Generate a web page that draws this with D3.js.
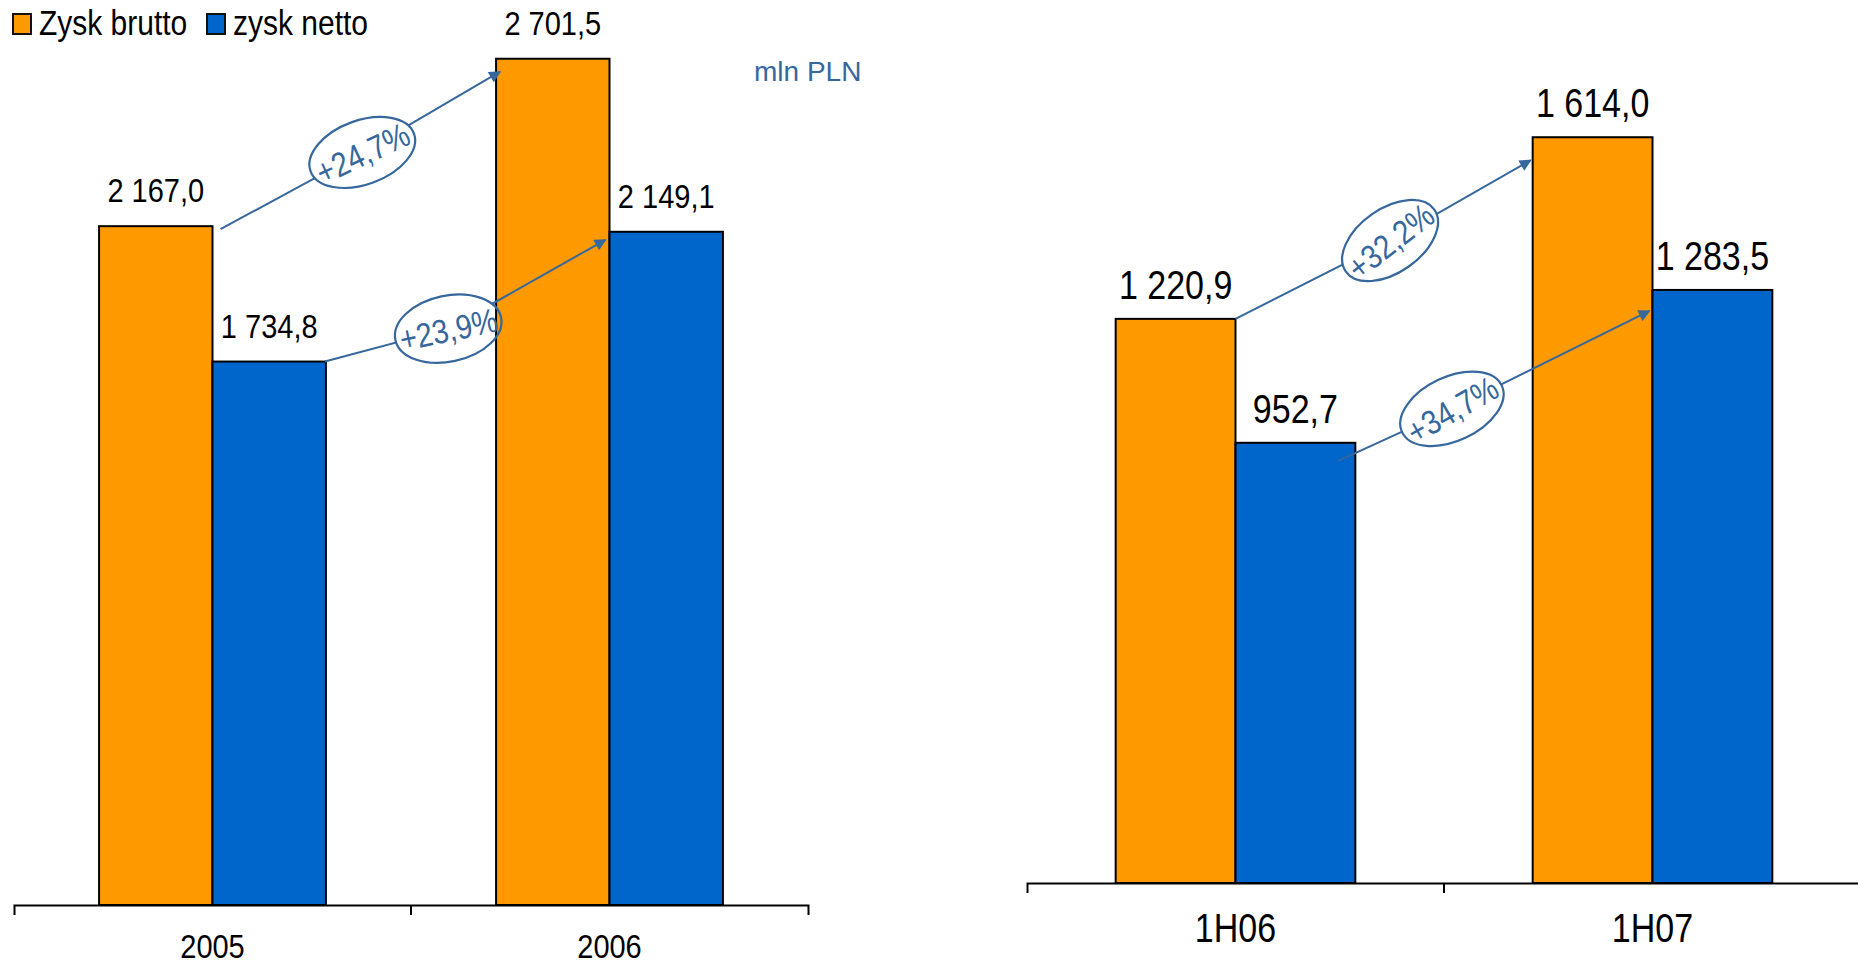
<!DOCTYPE html>
<html><head><meta charset="utf-8">
<script src="https://cdn.jsdelivr.net/npm/d3@7"></script>
<style>body{margin:0;background:#fff} text{font-family:"Liberation Sans",Arial,sans-serif}</style>
</head><body><svg id="c" width="1858" height="968"></svg>
<script>
// ---- data ----
const seriesNames = ["Zysk brutto", "zysk netto"];
const seriesColors = ["#FF9900", "#0066CC"];
const yearCats = ["2005", "2006"];
const yearBrutto = [2167.0, 2701.5];
const yearNetto = [1734.8, 2149.1];
const halfCats = ["1H06", "1H07"];
const halfBrutto = [1220.9, 1614.0];
const halfNetto = [952.7, 1283.5];
const unitLabel = "mln PLN";

// ---- layout ----
const annotColor = "#36679D";
const SY = 1.17; // vertical stretch of lettering
const pl = d3.formatLocale({decimal: ",", thousands: " ", grouping: [3], currency: ["", " zł"]});
const fmtVal = pl.format(",.1f");
const fmtPct = pl.format("+.1f");

const svg = d3.select("#c");
svg.append("rect").attr("width", 1858).attr("height", 968).attr("fill", "#fff");

const defs = svg.append("defs");
defs.append("marker").attr("id", "arr").attr("viewBox", "0 0 10 10").attr("refX", 9).attr("refY", 5)
  .attr("markerWidth", 7).attr("markerHeight", 6).attr("markerUnits", "strokeWidth").attr("orient", "auto")
  .append("path").attr("d", "M0,0L10,5L0,10Z").attr("fill", annotColor);

const panels = [
  {cats: yearCats, vals: [yearBrutto, yearNetto], xr: [14, 808], yr: [905, 0], ymax: 2889, outer: 0.75,
   font: 29, lblOff: 24, catFont: 29, catOff: 53,
   ann: [
     {s: 0, sdx: 8, sdy: 3, edx: 4, edy: 13, odx: 2, ody: 2, rx: 55, ry: 32, rot: -20, trot: -25},
     {s: 1, sdx: -1, sdy: 0, edx: -4, edy: 8, odx: -17, ody: 28, rx: 54, ry: 33, rot: -12, trot: -12}
   ]},
  {cats: halfCats, vals: [halfBrutto, halfNetto], xr: [1027, 1861], yr: [883, 0], ymax: 1911, outer: 0.74,
   font: 34, lblOff: 20, catFont: 34, catOff: 59,
   ann: [
     {s: 0, sdx: 0, sdy: 0, edx: -2, edy: 23, odx: 7, ody: 1, rx: 54, ry: 32, rot: -35, trot: -38},
     {s: 1, sdx: -17, sdy: 18, edx: -3, edy: 21, odx: -42, ody: 23, rx: 55, ry: 32, rot: -25, trot: -30}
   ]}
];

const maskG = defs.append("mask").attr("id", "m").attr("maskUnits", "userSpaceOnUse")
  .attr("x", 0).attr("y", 0).attr("width", 1858).attr("height", 968);
maskG.append("rect").attr("width", 1858).attr("height", 968).attr("fill", "#fff");

const place = (x, y) => `translate(${x},${y}) scale(1,${SY})`;

const annLayer = [];
panels.forEach((p, pi) => {
  const x0 = d3.scaleBand().domain(p.cats).range(p.xr).paddingInner(0).paddingOuter(0);
  const x1 = d3.scaleBand().domain(seriesNames).range([0, x0.bandwidth()]).paddingInner(0).paddingOuter(p.outer);
  const y = d3.scaleLinear().domain([0, p.ymax]).range(p.yr);
  const g = svg.append("g");

  // axis
  const axisY = p.yr[0];
  const ax = g.append("g").attr("transform", `translate(0,${axisY})`)
    .call(d3.axisBottom(x0).tickSizeInner(0).tickSizeOuter(10).tickFormat(""));
  ax.select(".domain").attr("stroke", "#000").attr("stroke-width", 2);
  g.selectAll("line.bt").data(p.cats.slice(1)).join("line").attr("class", "bt")
    .attr("x1", d => x0(d)).attr("x2", d => x0(d)).attr("y1", axisY).attr("y2", axisY + 10)
    .attr("stroke", "#000").attr("stroke-width", 2);
  g.selectAll("text.cat").data(p.cats).join("text").attr("class", "cat")
    .attr("transform", d => place(x0(d) + x0.bandwidth() / 2, axisY + p.catOff))
    .attr("text-anchor", "middle").attr("font-size", p.catFont).attr("fill", "#000").text(d => d);

  // bars
  const rows = [];
  p.cats.forEach((c, ci) => seriesNames.forEach((s, si) => rows.push({c, ci, s, si, v: p.vals[si][ci]})));
  g.selectAll("rect.bar").data(rows).join("rect").attr("class", "bar")
    .attr("x", d => x0(d.c) + x1(d.s)).attr("width", x1.bandwidth())
    .attr("y", d => y(d.v)).attr("height", d => y(0) - y(d.v))
    .attr("fill", d => seriesColors[d.si]).attr("stroke", "#000").attr("stroke-width", 2);
  g.selectAll("text.val").data(rows).join("text").attr("class", "val")
    .attr("transform", d => place(x0(d.c) + x1(d.s) + x1.bandwidth() / 2, y(d.v) - p.lblOff))
    .attr("text-anchor", "middle").attr("font-size", p.font).attr("fill", "#000").text(d => fmtVal(d.v));

  // growth annotations
  p.ann.forEach(a => {
    const v0 = p.vals[a.s][0], v1 = p.vals[a.s][1];
    const sx = x0(p.cats[0]) + x1(seriesNames[a.s]) + x1.bandwidth() + a.sdx, sy = y(v0) + a.sdy;
    const ex = x0(p.cats[1]) + x1(seriesNames[a.s]) + a.edx, ey = y(v1) + a.edy;
    const cx = (sx + ex) / 2 + a.odx, cy = (sy + ey) / 2 + a.ody;
    annLayer.push({sx, sy, ex, ey, cx, cy, a, label: fmtPct((v1 / v0 - 1) * 100) + "%"});
  });
});

// mask out ellipse interiors for arrow lines
maskG.selectAll("ellipse").data(annLayer).join("ellipse")
  .attr("cx", d => d.cx).attr("cy", d => d.cy).attr("rx", d => d.a.rx).attr("ry", d => d.a.ry)
  .attr("transform", d => `rotate(${d.a.rot},${d.cx},${d.cy})`).attr("fill", "#000");

const ag = svg.append("g");
ag.append("g").attr("mask", "url(#m)").selectAll("path").data(annLayer).join("path")
  .attr("d", d => `M${d.sx},${d.sy}L${d.cx},${d.cy}L${d.ex},${d.ey}`)
  .attr("fill", "none").attr("stroke", annotColor).attr("stroke-width", 2)
  .attr("marker-end", "url(#arr)");
ag.selectAll("ellipse").data(annLayer).join("ellipse")
  .attr("cx", d => d.cx).attr("cy", d => d.cy).attr("rx", d => d.a.rx).attr("ry", d => d.a.ry)
  .attr("transform", d => `rotate(${d.a.rot},${d.cx},${d.cy})`)
  .attr("fill", "none").attr("stroke", annotColor).attr("stroke-width", 2.2);
ag.selectAll("text").data(annLayer).join("text")
  .attr("x", 0).attr("y", 11)
  .attr("transform", d => `translate(${d.cx},${d.cy}) rotate(${d.a.trot}) scale(1,${SY})`)
  .attr("text-anchor", "middle").attr("font-size", 29).attr("fill", annotColor).text(d => d.label);

// unit label
svg.append("text").attr("x", 754).attr("y", 81).attr("font-size", 28).attr("fill", annotColor).text(unitLabel);

// legend
const lg = svg.append("g");
const legX = [13, 207];
seriesNames.forEach((s, i) => {
  lg.append("rect").attr("x", legX[i]).attr("y", 14).attr("width", 18).attr("height", 20)
    .attr("fill", seriesColors[i]).attr("stroke", "#111").attr("stroke-width", 2);
  lg.append("text").attr("transform", place(legX[i] + 26, 35)).attr("font-size", 30).attr("fill", "#000").text(s);
});
</script></body></html>
